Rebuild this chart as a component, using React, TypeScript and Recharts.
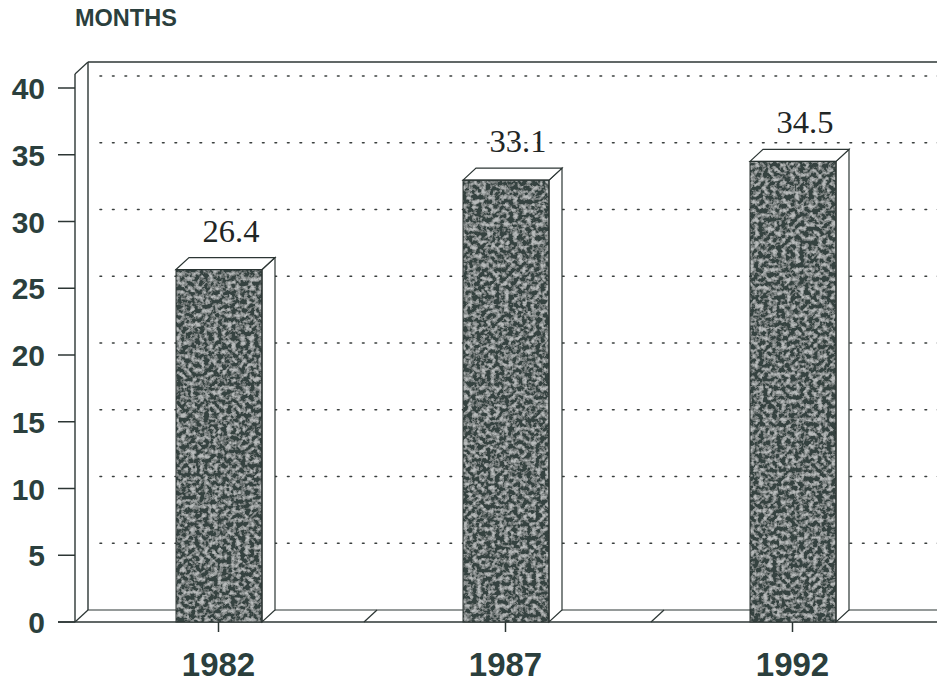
import React from 'react';
import { BarChart, Bar, XAxis, YAxis, CartesianGrid, LabelList, usePlotArea } from 'recharts';

const years = ['1982', '1987', '1992'];
const months = [26.4, 33.1, 34.5];
const yTicks = [0, 5, 10, 15, 20, 25, 30, 35, 40];
const unitLabel = 'MONTHS';

const data = years.map((year, i) => ({ year, months: months[i] }));

const DX = 13;
const DY = -12;
const INK = '#2c3634';
const LABEL = '#2b3f3d';

const Frame = () => {
  const pa = usePlotArea();
  if (!pa) return null;
  const { x, y, width, height } = pa;
  const bottom = y + height;
  const right = x + width;
  const wallTop = y - 26;
  const band = width / years.length;
  const dividers = [1, 2].map((k) => x + band * k + 2);
  return (
    <g>
      <text x={x} y={26} fontFamily="'Liberation Sans', Arial, sans-serif" fontWeight="bold" fontSize={23.5} fill={LABEL}>
        {unitLabel}
      </text>
      {/* floor */}
      <polygon points={`${x},${bottom} ${right + 20},${bottom} ${right + 20},${bottom + DY} ${x + DX},${bottom + DY}`} fill="#fff" stroke="none" />
      <line x1={x - 17} y1={bottom} x2={right + 20} y2={bottom} stroke={INK} strokeWidth={1.6} />
      <line x1={x + DX} y1={bottom + DY} x2={right + 20} y2={bottom + DY} stroke={INK} strokeWidth={1.2} />
      <line x1={x} y1={bottom} x2={x + DX} y2={bottom + DY} stroke={INK} strokeWidth={1.2} />
      {dividers.map((d, i) => (
        <line key={i} x1={d} y1={bottom} x2={d + DX} y2={bottom + DY} stroke={INK} strokeWidth={1.2} />
      ))}
      {/* left wall */}
      <line x1={x} y1={bottom} x2={x} y2={wallTop - DY} stroke={INK} strokeWidth={1.4} />
      <line x1={x + DX} y1={bottom + DY} x2={x + DX} y2={wallTop} stroke={INK} strokeWidth={1.4} />
      <line x1={x} y1={wallTop - DY} x2={x + DX} y2={wallTop} stroke={INK} strokeWidth={1.2} />
      {/* back wall top */}
      <line x1={x + DX} y1={wallTop} x2={right + 20} y2={wallTop} stroke={INK} strokeWidth={1.4} />
    </g>
  );
};

const Bar3D = (props: any) => {
  const { x, y, width, height } = props;
  if (height == null || height <= 0) return null;
  const r = x + width;
  const b = y + height;
  return (
    <g>
      <rect x={x} y={y} width={width} height={height} fill="#34423f" filter="url(#grain)" />
      <polygon points={`${r},${y} ${r + DX},${y + DY} ${r + DX},${b + DY} ${r},${b}`} fill="#fff" stroke={INK} strokeWidth={1.2} />
      <polygon points={`${x},${y} ${x + DX},${y + DY} ${r + DX},${y + DY} ${r},${y}`} fill="#fff" stroke={INK} strokeWidth={1.2} />
      <rect x={x} y={y} width={width} height={height} fill="none" stroke="#2a3331" strokeWidth={1} />
    </g>
  );
};

const YTick = (props: any) => {
  const { x, y, payload } = props;
  return (
    <text x={x} y={y} dy={11} textAnchor="end" fontFamily="'Liberation Sans', Arial, sans-serif" fontWeight="bold" fontSize={30} fill={LABEL}>
      {payload.value}
    </text>
  );
};

const XTick = (props: any) => {
  const { x, y, payload } = props;
  return (
    <text x={x} y={y + 42} textAnchor="middle" fontFamily="'Liberation Sans', Arial, sans-serif" fontWeight="bold" fontSize={33} fill={LABEL}>
      {payload.value}
    </text>
  );
};

const ValueLabel = (props: any) => {
  const { x, y, width, value } = props;
  return (
    <text x={x + width / 2 + 12} y={y - 28} textAnchor="middle" fontFamily="'Liberation Serif', 'Times New Roman', serif" fontSize={32.5} fill="#1f2625">
      {value}
    </text>
  );
};

const GridLine = (props: any) => {
  const { x1, y1, x2, y2, key } = props;
  if (Math.abs(y1 - 622) < 1) return <g key={key} />;
  return (
    <line key={key} x1={x1 + DX + 12} y1={y1 + DY} x2={x2 + 20} y2={y2 + DY} stroke="#3a3f3e" strokeWidth={1.6} strokeDasharray="1.6 10.9" strokeLinecap="round" />
  );
};

export default function App() {
  return (
    <div style={{ position: 'absolute', left: 0, top: 0, width: 937, height: 682, background: '#fff', overflow: 'hidden' }}>
      <svg width={0} height={0} style={{ position: 'absolute' }}>
        <defs>
          <filter id="grain" x="0" y="0" width="1" height="1" filterUnits="objectBoundingBox">
            <feTurbulence type="fractalNoise" baseFrequency="0.22" numOctaves="3" seed="11" result="noise" />
            <feColorMatrix in="noise" type="matrix" values="0 0 0 0 0.47  0 0 0 0 0.49  0 0 0 0 0.49  3 0 0 0 -1.25" result="spots" />
            <feMerge result="merged">
              <feMergeNode in="SourceGraphic" />
              <feMergeNode in="spots" />
            </feMerge>
            <feComposite in="merged" in2="SourceGraphic" operator="in" />
          </filter>
        </defs>
      </svg>
      <BarChart width={937} height={682} data={data} margin={{ top: 88, right: 1, left: 0, bottom: 0 }} barSize={86}>
        <Frame />
        <CartesianGrid vertical={false} horizontal={GridLine} />
        <YAxis type="number" domain={[0, 40]} ticks={yTicks} width={75} axisLine={false} tickLine={{ stroke: INK, strokeWidth: 1.5 }} tickSize={17} tickMargin={13} tick={YTick} interval={0} />
        <XAxis dataKey="year" height={60} axisLine={false} tickLine={{ stroke: INK, strokeWidth: 1.5 }} tickSize={10} tick={XTick} />
        <Bar dataKey="months" shape={Bar3D} isAnimationActive={false}>
          <LabelList dataKey="months" content={ValueLabel} />
        </Bar>
      </BarChart>
    </div>
  );
}
